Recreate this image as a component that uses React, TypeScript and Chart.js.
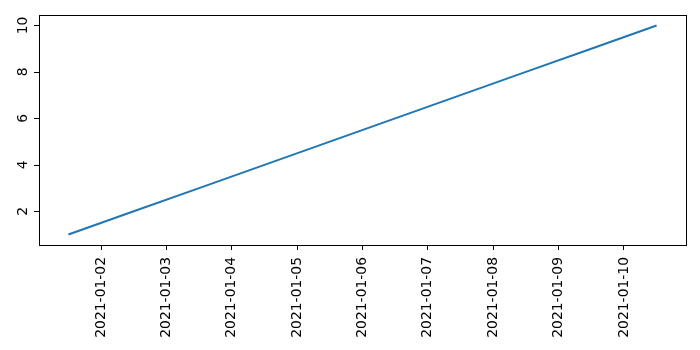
import React, { useEffect, useRef } from "react";
import { Chart, registerables } from "chart.js";

Chart.register(...registerables);

// x values: day-of-January 2021 (1.5 = 2021-01-01 12:00)
const xDays = [1.5, 2.5, 3.5, 4.5, 5.5, 6.5, 7.5, 8.5, 9.5, 10.5];
const yValues = [1, 2, 3, 4, 5, 6, 7, 8, 9, 10];
const xTickDays = [2, 3, 4, 5, 6, 7, 8, 9, 10];
const yTicks = [2, 4, 6, 8, 10];

const pad = (n: number) => (n < 10 ? "0" + n : "" + n);
const dayLabel = (d: number) => `2021-01-${pad(d)}`;

const FONT = "'DejaVu Sans', sans-serif";
const FONT_SIZE = 13.9;

const framePlugin = {
  id: "frame",
  afterDraw(chart: any) {
    const { ctx, chartArea } = chart;
    ctx.save();
    ctx.strokeStyle = "#000";
    ctx.fillStyle = "#000";
    ctx.lineWidth = 1;
    const leftPx = Math.round(chartArea.left);
    ctx.strokeRect(
      leftPx + 0.5,
      Math.round(chartArea.top) + 0.5,
      Math.round(chartArea.right) - leftPx,
      Math.round(chartArea.bottom) - Math.round(chartArea.top)
    );
    // y tick marks and rotated y tick labels
    const yScale = chart.scales.y;
    ctx.font = `${FONT_SIZE}px ${FONT}`;
    ctx.textAlign = "center";
    ctx.textBaseline = "alphabetic";
    const xBase = leftPx - 12;
    yTicks.forEach((v) => {
      const py = yScale.getPixelForValue(v);
      ctx.fillRect(leftPx - 5, Math.round(py), 6, 1);
      ctx.save();
      ctx.translate(xBase, py);
      ctx.rotate(-Math.PI / 2);
      ctx.fillText(String(v), 0, 0);
      ctx.restore();
    });
    ctx.restore();
  },
};

export default function App() {
  const ref = useRef<HTMLCanvasElement>(null);
  useEffect(() => {
    document.body.style.margin = "0";
    const canvas = ref.current!;
    const chart = new Chart(canvas, {
      type: "line",
      data: {
        datasets: [
          {
            data: xDays.map((x, i) => ({ x, y: yValues[i] })),
            borderColor: "#1f77b4",
            borderWidth: 2,
            pointRadius: 0,
            fill: false,
            tension: 0,
          },
        ],
      },
      options: {
        responsive: false,
        animation: false,
        layout: { padding: { top: 15, right: 14, left: 0, bottom: 0 } },
        plugins: { legend: { display: false }, tooltip: { enabled: false } },
        scales: {
          x: {
            type: "linear",
            min: 1.05,
            max: 10.95,
            afterBuildTicks: (scale: any) => {
              scale.ticks = xTickDays.map((v) => ({ value: v }));
            },
            afterFit: (scale: any) => {
              scale.height = 105;
            },
            ticks: {
              minRotation: 90,
              maxRotation: 90,
              autoSkip: false,
              padding: 7,
              color: "#000",
              font: { family: FONT, size: FONT_SIZE },
              callback: (v: any) => dayLabel(Number(v)),
            },
            grid: {
              display: true,
              drawOnChartArea: false,
              drawTicks: true,
              tickLength: 5,
              color: "#000",
            },
            border: { display: false },
          },
          y: {
            type: "linear",
            min: 0.55,
            max: 10.45,
            afterBuildTicks: (scale: any) => {
              scale.ticks = yTicks.map((v) => ({ value: v }));
            },
            afterFit: (scale: any) => {
              scale.width = 39;
            },
            ticks: {
              display: false,
              autoSkip: false,
            },
            grid: { display: false },
            border: { display: false },
          },
        },
      },
      plugins: [framePlugin],
    } as any);
    return () => chart.destroy();
  }, []);
  return <canvas ref={ref} width={700} height={350} style={{ display: "block" }} />;
}
